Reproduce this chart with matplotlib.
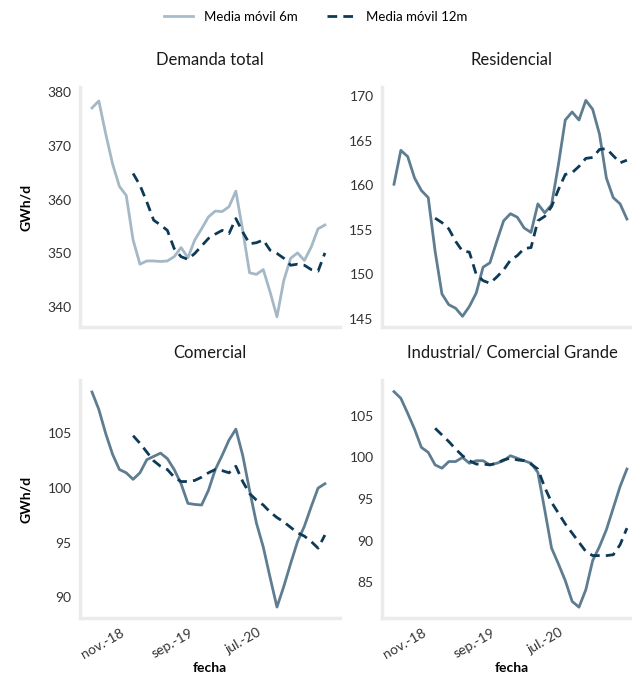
import matplotlib.pyplot as plt
import numpy as np
from matplotlib.lines import Line2D

plt.rcParams['font.family'] = ['Lato', 'DejaVu Sans']

# Meses desde jun.-18 hasta abr.-21 (35 valores); la media de 12m empieza en dic.-18
meses = np.arange(35)
inicio_12m = 6
tick_pos = [5, 15, 25]
tick_labels = ['nov.-18', 'sep.-19', 'jul.-20']

total_6m = [377.1, 378.4, 372.3, 366.7, 362.5, 360.8, 352.5, 348.0, 348.6, 348.6,
            348.5, 348.6, 349.4, 351.1, 349.2, 352.5, 354.6, 356.8, 357.9, 357.8,
            358.7, 361.6, 354.3, 346.4, 346.1, 347.0, 342.8, 338.2, 345.0, 349.1,
            350.1, 348.7, 351.2, 354.6, 355.3]
total_12m = [364.9, 362.7, 359.6, 356.2, 355.3, 354.3, 350.9, 349.4, 348.9, 350.0,
             351.4, 352.8, 353.6, 354.3, 353.7, 356.5, 354.0, 351.8, 352.0, 352.5,
             350.6, 350.0, 349.1, 347.8, 348.0, 347.8, 347.0, 346.7, 350.1]

resid_6m = [160.1, 163.9, 163.2, 160.8, 159.4, 158.6, 152.6, 147.8, 146.6, 146.2,
            145.3, 146.4, 147.9, 150.8, 151.3, 153.7, 156.0, 156.8, 156.4, 155.2,
            154.7, 157.9, 156.9, 157.8, 162.3, 167.3, 168.2, 167.3, 169.5, 168.5,
            165.7, 160.8, 158.6, 157.9, 156.2]
resid_12m = [156.3, 155.8, 155.1, 153.7, 152.6, 152.5, 150.0, 149.3, 149.0, 149.7,
             150.5, 151.6, 152.1, 152.9, 153.0, 156.0, 156.5, 157.6, 159.5, 161.2,
             161.4, 162.1, 163.0, 163.1, 164.0, 164.1, 163.3, 162.5, 162.8]

comer_6m = [108.8, 107.2, 105.0, 103.1, 101.7, 101.4, 100.8, 101.4, 102.6, 102.9,
            103.2, 102.7, 101.7, 100.4, 98.6, 98.5, 98.45, 99.8, 101.7, 103.0,
            104.4, 105.4, 103.0, 99.8, 96.8, 94.6, 91.8, 89.1, 91.0, 93.1,
            95.1, 96.5, 98.3, 100.0, 100.4]
comer_12m = [104.8, 104.1, 103.3, 102.5, 102.0, 101.7, 101.0, 100.6, 100.6, 100.7,
             101.0, 101.4, 101.7, 101.6, 101.4, 102.0, 100.6, 99.5, 98.9, 98.45,
             97.8, 97.3, 96.9, 96.4, 95.9, 95.6, 95.1, 94.5, 95.7]

indus_6m = [107.9, 107.1, 105.3, 103.4, 101.2, 100.6, 99.1, 98.7, 99.5, 99.5,
            100.0, 99.3, 99.6, 99.6, 99.1, 99.3, 99.6, 100.2, 99.9, 99.6,
            99.3, 98.2, 93.7, 89.1, 87.2, 85.2, 82.7, 82.0, 84.1, 87.6,
            89.3, 91.3, 93.9, 96.5, 98.6]
indus_12m = [103.5, 102.7, 101.9, 101.0, 100.2, 99.6, 99.2, 99.2, 99.1, 99.3,
             99.7, 99.9, 99.7, 99.6, 99.2, 98.6, 96.4, 94.6, 93.3, 92.0,
             90.9, 89.8, 88.7, 88.2, 88.2, 88.2, 88.3, 89.5, 91.5]

paneles = [
    ('Demanda total', total_6m, total_12m, (336.3, 381), [340, 350, 360, 370, 380], '#a4b8c6'),
    ('Residencial', resid_6m, resid_12m, (144.1, 171), [145, 150, 155, 160, 165, 170], '#5f7d91'),
    ('Comercial', comer_6m, comer_12m, (88.1, 109.9), [90, 95, 100, 105], '#5f7d91'),
    ('Industrial/ Comercial Grande', indus_6m, indus_12m, (80.7, 109.3), [85, 90, 95, 100, 105], '#5f7d91'),
]

fig = plt.figure(figsize=(6.32, 6.77), dpi=100)
W, H = 632, 677
posiciones = [(80, 87, 260, 240), (382, 87, 260, 240),
              (80, 380, 260, 238), (382, 380, 260, 238)]

dashed_color = '#0d3a56'
guiones = (0, (3.5, 2.2))
for k, (titulo, s6, s12, ylim, yt, color6) in enumerate(paneles):
    x0, y0, w, h = posiciones[k]
    ax = fig.add_axes([x0 / W, 1 - (y0 + h) / H, w / W, h / H])
    ax.plot(meses, s6, color=color6, lw=2)
    ax.plot(meses[inicio_12m:], s12, color=dashed_color, lw=2, ls=guiones)
    ax.set_xlim(-1.75, 36.2)
    ax.set_ylim(*ylim)
    ax.set_yticks(yt)
    ax.set_title(titulo, fontsize=12, color='#1a1a1a', pad=16)
    for lado in ['top', 'right']:
        ax.spines[lado].set_visible(False)
    for lado in ['left', 'bottom']:
        ax.spines[lado].set_color('#ebebeb')
        ax.spines[lado].set_linewidth(2.5)
    ax.tick_params(length=0, labelsize=10, labelcolor='#333333', pad=6)
    ax.set_xticks(tick_pos)
    if k >= 2:
        ax.set_xticklabels(tick_labels, rotation=30, ha='right')
        ax.set_xlabel('fecha', fontsize=10, fontweight='bold', labelpad=1)
    else:
        ax.set_xticklabels([])
    if k % 2 == 0:
        ax.set_ylabel('GWh/d', fontsize=10, fontweight='bold', labelpad=11)

# Leyenda común arriba
handles = [Line2D([], [], color='#a9bccb', lw=2),
           Line2D([], [], color=dashed_color, lw=2, ls=guiones)]
fig.legend(handles, ['Media móvil 6m', 'Media móvil 12m'], loc='center',
           bbox_to_anchor=(316 / W, 1 - 17 / H), ncol=2, frameon=False,
           fontsize=9.5, handlelength=2.2, columnspacing=2.2)

fig.savefig('out.png', dpi=100)
